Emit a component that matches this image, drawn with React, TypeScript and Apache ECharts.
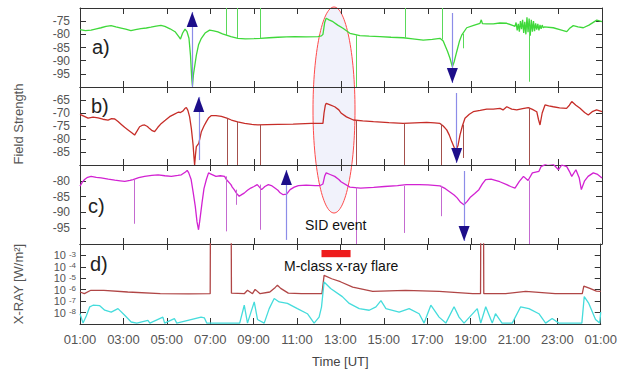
import React, { useEffect, useRef } from 'react';
import * as echarts from 'echarts';

const FONT = "'Liberation Sans', Arial, Helvetica, sans-serif";
const T0 = 1; // axis starts at 01:00 UT

// ---- Panel a) field strength (green), [clock hour, value]
const fieldA: number[][] = [
  [1.0, -78.2], [1.25, -78.6], [1.51, -78.4], [1.75, -77.9], [1.97, -77.5], [2.2, -77.0], [2.43, -76.7], [2.65, -77.2],
  [2.89, -77.6], [3.1, -78.0], [3.34, -78.6], [3.55, -78.2], [3.8, -77.8], [4.05, -77.6], [4.26, -77.3], [4.5, -76.9],
  [4.72, -76.6], [4.9, -77.0], [5.14, -77.9], [5.37, -79.0], [5.55, -81.0], [5.62, -81.8], [5.72, -79.5], [5.83, -78.0],
  [5.92, -79.0], [6.01, -81.5], [6.08, -88], [6.14, -97], [6.17, -99.5], [6.22, -95], [6.35, -87.9], [6.45, -84],
  [6.58, -81.5], [6.75, -79.5], [6.96, -78.4], [7.15, -78.7], [7.34, -79.1], [7.55, -79.8], [7.73, -80.3], [7.94, -80.9],
  [8.26, -81.5], [8.6, -81.7], [9.0, -81.6], [9.29, -81.5], [9.7, -81.3], [10.1, -81.1], [10.5, -81.0], [10.87, -80.9],
  [11.4, -81.0], [11.94, -80.9], [12.1, -80.6], [12.17, -80.0], [12.25, -75.5], [12.32, -73.9], [12.45, -74.5],
  [12.63, -75.2], [12.85, -76.5], [13.09, -77.7], [13.41, -79.6], [13.87, -80.5], [14.3, -80.7], [14.79, -80.9],
  [15.3, -81.1], [15.86, -81.3], [16.3, -81.7], [16.78, -82.2], [17.2, -81.9], [17.55, -81.5], [17.7, -82.5],
  [17.78, -84.1], [17.9, -86.5], [18.01, -89.1], [18.12, -92.3], [18.2, -90.5], [18.32, -86.6], [18.45, -82.5],
  [18.55, -80.3], [18.78, -77.5], [19.1, -76.6], [19.39, -75.8], [19.45, -74.5], [19.5, -75.9], [19.7, -76.0],
  [20.0, -76.0], [20.3, -75.7], [20.62, -75.8], [20.92, -76.7], [21.0, -77.0], [21.05, -75.5], [21.1, -78.5],
  [21.15, -76.0], [21.2, -79.0], [21.25, -75.0], [21.3, -78.0], [21.35, -74.5], [21.4, -79.5], [21.45, -75.2],
  [21.5, -80.0], [21.55, -73.5], [21.6, -79.2], [21.65, -74.0], [21.7, -80.5], [21.75, -74.5], [21.8, -79.0],
  [21.85, -75.0], [21.9, -78.8], [21.95, -75.8], [22.0, -78.2], [22.05, -76.0], [22.1, -78.5], [22.15, -76.4],
  [22.2, -77.9], [22.25, -76.5], [22.3, -77.5], [22.35, -77.2], [22.76, -77.5], [23.1, -78.3], [23.38, -79.0],
  [23.5, -77.8], [23.68, -76.7], [23.9, -77.2], [24.14, -77.5], [24.4, -76.5], [24.76, -74.6], [25.0, -75.2],
];
// [clock hour, from, to]
const spikesA: number[][] = [
  [7.73, -80.3, -70], [8.22, -81.4, -70], [9.29, -81.5, -70], [13.72, -80.3, -100], [15.94, -81.3, -70],
  [17.66, -82.0, -70], [18.61, -79.8, -85.3], [21.64, -77.0, -98],
];
// [clock hour, tail, tip]
const arrowsA: number[][] = [[6.16, -100, -71.5], [18.12, -71.9, -98.5]];

// ---- Panel b) field strength (red)
const fieldB: number[][] = [
  [1.0, -70.5], [1.2, -71.3], [1.37, -72.0], [1.6, -71.6], [1.83, -71.9], [2.05, -72.4], [2.29, -72.7], [2.45, -72.2],
  [2.6, -72.3], [2.75, -73.3], [2.9, -74.4], [3.05, -75.5], [3.21, -76.5], [3.38, -77.6], [3.51, -78.5], [3.62, -77.0],
  [3.74, -75.3], [3.85, -74.8], [3.97, -74.6], [4.1, -75.2], [4.2, -76.0], [4.32, -76.8], [4.43, -77.2], [4.58, -75.5],
  [4.74, -74.0], [4.92, -72.8], [5.12, -71.4], [5.3, -70.6], [5.51, -69.7], [5.62, -69.8], [5.74, -69.2], [5.82, -68.3],
  [5.89, -67.9], [5.96, -69], [6.04, -71.5], [6.12, -76], [6.2, -82.3], [6.24, -87], [6.27, -90], [6.31, -86],
  [6.35, -82.9], [6.46, -81.7], [6.52, -79.5], [6.58, -77.2], [6.7, -75.0], [6.81, -73.3], [6.92, -71.8], [7.04, -71.0],
  [7.25, -71.0], [7.5, -71.3], [7.75, -72.0], [7.96, -72.7], [8.25, -73.4], [8.57, -74.0], [8.9, -74.4], [9.18, -74.6],
  [9.6, -74.5], [10.1, -74.4], [10.8, -74.3], [11.63, -74.0], [12.0, -74.0], [12.17, -74.0], [12.22, -70], [12.28, -67],
  [12.32, -66.3], [12.5, -66.9], [12.71, -67.6], [12.9, -68.8], [13.0, -70], [13.25, -71.5], [13.57, -72.7],
  [14.0, -73.0], [14.49, -73.3], [15.2, -73.7], [15.86, -74.0], [16.4, -73.8], [16.94, -73.6], [17.3, -73.8],
  [17.55, -74.0], [17.7, -75.0], [17.86, -76.5], [17.98, -78.5], [18.09, -81.0], [18.2, -83.2], [18.29, -84.2],
  [18.38, -82.5], [18.47, -78.5], [18.58, -75], [18.7, -72.0], [18.9, -70.5], [19.08, -69.5], [19.4, -69.0],
  [19.7, -68.5], [20.0, -68.5], [20.31, -68.2], [20.45, -68.8], [20.62, -67.6], [20.85, -68.5], [21.08, -68.8],
  [21.35, -68.3], [21.61, -67.9], [21.8, -68.6], [22.0, -69.5], [22.08, -72.5], [22.15, -74.6], [22.25, -70],
  [22.38, -66.9], [22.55, -67.3], [22.76, -67.6], [23.05, -68.0], [23.37, -68.2], [23.5, -67.0], [23.61, -65.6],
  [23.8, -67.0], [23.99, -68.2], [24.2, -69.8], [24.37, -70.8], [24.55, -69.5], [24.75, -68.8], [25.0, -69.5],
];
const spikesB: number[][] = [
  [7.76, -72.0, -90], [8.22, -73.4, -90], [9.29, -74.6, -90], [13.69, -72.8, -90], [15.91, -74.0, -90],
  [17.63, -74.2, -90], [18.6, -74.5, -87.3], [21.64, -68.0, -90],
];
const arrowsB: number[][] = [[6.46, -88.1, -63.8], [18.32, -62.3, -89.2]];

// ---- Panel c) field strength (magenta)
const fieldC: number[][] = [
  [1.0, -81.7], [1.1, -80.5], [1.21, -79.6], [1.35, -78.9], [1.51, -78.6], [1.75, -78.9], [1.97, -79.1], [2.3, -79.5],
  [2.6, -79.8], [2.85, -80.0], [3.06, -80.2], [3.3, -79.9], [3.44, -79.6], [3.7, -79.0], [3.97, -78.6], [4.3, -78.3],
  [4.59, -78.1], [4.9, -78.4], [5.2, -78.6], [5.5, -78.3], [5.66, -78.1], [5.85, -77.2], [5.93, -76.7], [6.0, -77.5],
  [6.11, -79.6], [6.2, -83.5], [6.3, -88.1], [6.38, -93], [6.45, -95.5], [6.5, -93], [6.61, -87.0], [6.7, -82.5],
  [6.81, -79.6], [6.91, -77.5], [7.0, -77.8], [7.25, -78.6], [7.45, -78.4], [7.65, -78.6], [7.72, -79.5], [7.94, -81.2],
  [8.0, -82.0], [8.09, -82.8], [8.2, -84], [8.32, -84.9], [8.45, -84.3], [8.55, -83.9], [8.7, -83.0], [8.85, -82.3],
  [9.0, -81.8], [9.15, -81.2], [9.35, -82.8], [9.5, -81.8], [9.66, -81.2], [9.8, -81.5], [9.96, -82.3], [10.1, -83],
  [10.2, -83.8], [10.34, -84.4], [10.5, -84.2], [10.66, -82.8], [10.85, -82.0], [11.04, -81.5], [11.4, -81.4],
  [11.81, -81.5], [12.04, -81.5], [12.17, -81.0], [12.25, -78.5], [12.32, -77.5], [12.5, -78.0], [12.71, -78.6],
  [12.9, -79.6], [13.0, -80.3], [13.41, -82.0], [13.9, -82.3], [14.5, -82.1], [15.0, -81.8], [15.6, -81.5],
  [16.0, -81.2], [16.6, -81.2], [17.0, -81.3], [17.55, -81.6], [17.8, -82.5], [17.96, -83.3], [18.2, -84.5],
  [18.34, -85.4], [18.5, -86.8], [18.65, -87.6], [18.8, -86.5], [18.96, -85.1], [19.15, -84], [19.34, -82.8],
  [19.5, -81], [19.65, -79.6], [19.9, -79.5], [20.1, -79.9], [20.3, -80.3], [20.62, -81.2], [20.8, -81.8],
  [21.0, -82.3], [21.2, -80.2], [21.39, -78.6], [21.6, -79.9], [21.8, -77.5], [22.1, -77.0], [22.2, -75.5],
  [22.38, -74.9], [22.5, -74.5], [22.76, -74.8], [23.0, -76.5], [23.15, -75.0], [23.38, -75.5], [23.5, -77],
  [23.61, -78.6], [23.8, -76.5], [23.95, -79], [24.05, -82.8], [24.2, -80.0], [24.36, -78.6], [24.6, -77.5],
  [24.8, -78.0], [25.0, -79.1],
];
const spikesC: number[][] = [
  [3.48, -79.6, -93.6], [7.73, -78.6, -96.0], [8.19, -82.8, -87.6], [9.29, -81.2, -95.5], [13.69, -82.0, -100],
  [15.91, -81.6, -96.5], [17.63, -81.6, -91.2], [21.64, -79.9, -100],
];
const arrowsC: number[][] = [[10.49, -98.7, -76.6], [18.66, -76.9, -99.05]];

// ---- Panel d) X-ray flux, W/m2
const xrayLong: number[][] = [
  [1.0, 6.3e-7], [1.2, 4.5e-7], [1.5, 8.9e-7], [2.1, 8.9e-7], [3.2, 6.3e-7], [4.7, 4.5e-7], [6.0, 4.3e-7],
  [7.0, 4.5e-7], [7.01, 1e-1], [7.97, 1e-1], [7.98, 5e-7], [8.57, 4.5e-7], [8.72, 8.9e-7], [8.95, 4.5e-7],
  [9.07, 1.07e-6], [9.3, 4.5e-7], [9.75, 6.3e-7], [10.0, 1.6e-6], [10.1, 2.5e-6], [10.25, 1.3e-6], [10.6, 5e-7],
  [11.2, 4.5e-7], [12.15, 4.5e-7], [12.25, 1.8e-5], [12.6, 9.1e-6], [13.0, 5e-6], [13.57, 1.7e-6], [14.49, 7.2e-7],
  [16.0, 8.9e-7], [17.55, 7.2e-7], [19.1, 4.5e-7], [19.46, 4.5e-7], [19.47, 1e-1], [19.6, 1e-1], [19.61, 4.5e-7],
  [20.62, 4.5e-7], [21.54, 7.2e-7], [22.9, 4.5e-7], [24.15, 4.5e-7], [24.22, 2.1e-6], [24.5, 1.3e-6],
  [24.8, 7.5e-7], [25.0, 7.2e-7],
];
const xrayShort: number[][] = [
  [1.0, 7.9e-9], [1.14, 1.2e-9], [1.29, 5e-9], [1.45, 3.2e-8], [1.6, 4.4e-8], [1.91, 4e-8], [2.14, 1.6e-8],
  [2.44, 1.1e-8], [2.75, 2.2e-8], [3.06, 5.8e-9], [3.36, 1.5e-9], [3.62, 1.2e-9], [4.13, 2.1e-9], [4.22, 1.2e-9],
  [4.82, 4e-9], [4.9, 1.2e-9], [5.35, 3e-9], [5.46, 1.2e-9], [6.58, 4e-9], [6.73, 3.5e-9], [6.84, 1.2e-9],
  [8.36, 1.2e-9], [8.57, 4.4e-8], [8.72, 1.2e-9], [8.88, 1.1e-8], [9.03, 8.5e-8], [9.18, 2.5e-9], [9.49, 1.2e-9],
  [9.72, 2.2e-8], [9.95, 1.7e-7], [10.18, 8.5e-8], [10.56, 6.3e-8], [11.02, 2.2e-8], [11.48, 7.9e-9],
  [11.79, 1.2e-9], [12.02, 4e-9], [12.13, 3e-8], [12.25, 4.8e-6], [12.55, 1.26e-6], [13.09, 2.5e-7],
  [13.41, 6.3e-8], [13.87, 2.2e-8], [14.33, 1.6e-8], [14.64, 3.2e-8], [14.87, 1.1e-7], [15.1, 2.2e-8],
  [15.71, 1.1e-8], [16.17, 2.2e-8], [16.63, 7.9e-9], [16.86, 1.2e-9], [17.17, 4.4e-8], [17.55, 4e-9],
  [17.86, 1.2e-9], [18.24, 3.2e-8], [18.47, 4e-9], [18.7, 1.2e-9], [19.31, 2.2e-8], [19.47, 1.2e-9],
  [19.7, 3.2e-8], [20.0, 1.2e-9], [20.15, 7.9e-9], [20.45, 1.2e-9], [20.92, 1.2e-9], [21.31, 3.2e-8],
  [21.69, 2.2e-8], [22.15, 7.9e-9], [22.46, 1.2e-9], [22.76, 3e-9], [23.07, 1.2e-9], [24.13, 1.2e-9],
  [24.24, 2.5e-7], [24.45, 6.3e-8], [24.76, 2.5e-9], [24.95, 1.2e-9], [25.0, 1.1e-8],
];
// M-class flare interval [start hour, end hour] and its bar band in W/m2
const flareHours = [12.13, 13.47];
const flareBand = [3e-3, 7e-4];

// axis ranges
const rangeA = [-100, -70];
const rangeB = [-90, -60];
const rangeC = [-100, -75];
const rangeD = [1e-9, 1e-2];
// exponents labelled on the X-ray axis
const xrayLabelExps = [-8, -7, -6, -5, -4, -3];

const AXIS = '#333';
const LABEL = '#555';

const shift = (arr: number[][]) => arr.map(([h, v]) => [h - T0, v]);

function marks(spikes: number[][], spikeColor: string, arrows: number[][]) {
  return {
    markLine: {
      silent: true,
      animation: false,
      symbol: ['none', 'none'],
      label: { show: false },
      data: [
        ...spikes.map(([t, a, b]) => [
          { coord: [t - T0, a], lineStyle: { color: spikeColor, width: 1, type: 'solid' } },
          { coord: [t - T0, b] },
        ]),
        ...arrows.map(([t, a, b]) => [
          { coord: [t - T0, a], lineStyle: { color: '#8c8ce8', width: 1.2, type: 'solid' } },
          { coord: [t - T0, b] },
        ]),
      ],
    },
    markPoint: {
      silent: true,
      animation: false,
      data: arrows.map(([t, a, b]) => {
        const up = b > a;
        return {
          coord: [t - T0, b],
          symbol: 'triangle',
          symbolSize: [11, 15],
          symbolRotate: up ? 0 : 180,
          symbolOffset: [0, up ? 7.5 : -7.5],
          itemStyle: { color: '#1d0e8a' },
          label: { show: false },
        };
      }),
    },
  };
}

const grids = [
  { left: 80, top: 8, width: 522, height: 79 },
  { left: 80, top: 87, width: 522, height: 78 },
  { left: 80, top: 165, width: 522, height: 79 },
  { left: 80, top: 244, width: 522, height: 80 },
];

const pad = (n: number) => (n < 10 ? '0' + n : '' + n);

function xAxes(i: number) {
  const base = {
    type: 'value',
    gridIndex: i,
    min: 0,
    max: 24,
    interval: 2,
    axisLine: { show: true, onZero: false, lineStyle: { color: AXIS, width: 1 } },
    axisTick: { show: true, inside: true, length: 6, lineStyle: { color: AXIS } },
    splitLine: { show: false },
  };
  const bottom: any = { ...base, position: 'bottom', axisLabel: { show: false } };
  if (i === 3) {
    bottom.axisLabel = {
      show: true,
      margin: 9,
      color: LABEL,
      fontSize: 13,
      fontFamily: FONT,
      formatter: (v: number) => pad((v + T0) % 24) + ':00',
    };
    bottom.name = 'Time [UT]';
    bottom.nameLocation = 'middle';
    bottom.nameGap = 31;
    bottom.nameTextStyle = { color: '#444', fontSize: 13, fontFamily: FONT };
  }
  const top = { ...base, position: 'top', axisLabel: { show: false } };
  return [bottom, top];
}

function yAxes(i: number, range: number[], log = false) {
  const base: any = {
    type: log ? 'log' : 'value',
    gridIndex: i,
    min: range[0],
    max: range[1],
    axisLine: { show: true, onZero: false, lineStyle: { color: AXIS, width: 1 } },
    axisTick: { show: true, inside: true, length: 6, lineStyle: { color: AXIS } },
    splitLine: { show: false },
  };
  if (log) {
    base.logBase = 10;
    base.splitNumber = 7;
  } else {
    base.interval = 5;
  }
  const left = {
    ...base,
    position: 'left',
    axisLabel: log
      ? {
          show: true,
          margin: 4,
          showMinLabel: false,
          showMaxLabel: false,
          formatter: (v: number) => {
            const e = Math.round(Math.log10(v));
            return xrayLabelExps.indexOf(e) >= 0 ? `{b|10}{s|${e}}` : '';
          },
          rich: {
            b: { fontSize: 11, color: LABEL, fontFamily: FONT, lineHeight: 10 },
            s: { fontSize: 8, color: LABEL, fontFamily: FONT, verticalAlign: 'top', lineHeight: 7, padding: [0, 0, 0, 3] },
          },
        }
      : {
          show: true,
          margin: 10,
          color: LABEL,
          fontSize: 12,
          lineHeight: 12,
          fontFamily: FONT,
          showMinLabel: false,
          showMaxLabel: false,
        },
  };
  const right = { ...base, position: 'right', axisLabel: { show: false } };
  return [left, right];
}

function lineSeries(data: number[][], idx: number, color: string, extra: any = {}) {
  return {
    type: 'line',
    xAxisIndex: idx * 2,
    yAxisIndex: idx * 2,
    data: shift(data),
    showSymbol: false,
    symbol: 'none',
    clip: true,
    silent: true,
    lineStyle: { color, width: 1.3 },
    z: 3,
    ...extra,
  };
}

const text = (t: string, x: number, y: number, size: number, fill: string, extra: any = {}) => ({
  type: 'text',
  x,
  y,
  z: 100,
  silent: true,
  ...extra,
  style: { text: t, fontSize: size, fontFamily: FONT, fill, verticalAlign: 'middle', align: 'left', ...(extra.style || {}) },
});

const option: any = {
  animation: false,
  backgroundColor: '#fff',
  grid: grids,
  xAxis: [...xAxes(0), ...xAxes(1), ...xAxes(2), ...xAxes(3)],
  yAxis: [...yAxes(0, rangeA), ...yAxes(1, rangeB), ...yAxes(2, rangeC), ...yAxes(3, rangeD, true)],
  series: [
    lineSeries(fieldA, 0, '#3fd83a', marks(spikesA, '#5ad95a', arrowsA)),
    lineSeries(fieldB, 1, '#c62d28', marks(spikesB, '#a4504c', arrowsB)),
    lineSeries(fieldC, 2, '#d222d2', marks(spikesC, '#c46ad0', arrowsC)),
    lineSeries(xrayLong, 3, '#b04646', {
      markArea: {
        silent: true,
        itemStyle: { color: '#ee1c1c' },
        data: [[{ coord: [flareHours[0] - T0, flareBand[0]] }, { coord: [flareHours[1] - T0, flareBand[1]] }]],
      },
    }),
    lineSeries(xrayShort, 3, '#45dcdc'),
  ],
  graphic: [
    {
      type: 'ellipse',
      z: 0,
      silent: true,
      shape: { cx: 334, cy: 110, rx: 21, ry: 103 },
      style: { fill: 'rgba(200,205,238,0.26)', stroke: '#ff4a4a', lineWidth: 1 },
    },
    text('a)', 92, 47, 20, '#222'),
    text('b)', 91, 106, 20, '#222'),
    text('c)', 88, 206, 20, '#222'),
    text('d)', 90, 264, 20, '#222'),
    text('SID event', 305, 225, 14, '#111'),
    text('M-class x-ray flare', 284, 266, 14, '#111'),
    text('Field Strength', 18, 124, 13, '#555', { rotation: Math.PI / 2, style: { align: 'center' } }),
    text('X-RAY [W/m²]', 18, 284, 13, '#555', { rotation: Math.PI / 2, style: { align: 'center' } }),
  ],
};

export default function App() {
  const ref = useRef<HTMLDivElement>(null);
  useEffect(() => {
    document.body.style.margin = '0';
    const chart = echarts.init(ref.current!, undefined, { renderer: 'svg' });
    chart.setOption(option);
    return () => chart.dispose();
  }, []);
  return (
    <div
      ref={ref}
      style={{ width: 620, height: 371, position: 'absolute', left: 0, top: 0, background: '#fff' }}
    />
  );
}
